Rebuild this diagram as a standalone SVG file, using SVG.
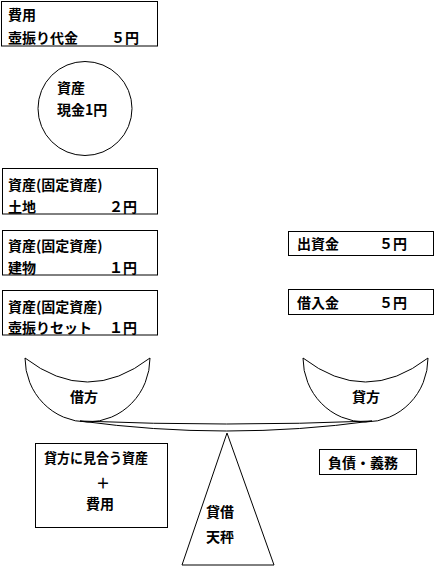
<svg xmlns="http://www.w3.org/2000/svg" width="435" height="569" viewBox="0 0 435 569">
<style>
.s{fill:none;stroke:#000;stroke-width:1}
.t{font-family:"Noto Sans CJK JP","Noto Sans CJK SC",sans-serif;font-size:14px;font-weight:bold;fill:#000}
.m{text-anchor:middle}
</style>
<rect width="435" height="569" fill="#fff"/>
<g id="hiyou">
<rect class="s" x="1.5" y="1.5" width="156" height="44.5"/>
<text class="t" x="8" y="20">費用</text>
<text class="t" x="8" y="43">壺振り代金</text>
<text class="t" x="111" y="43">５円</text>
</g>
<g id="genkin">
<circle class="s" cx="85" cy="108.5" r="47"/>
<text class="t" x="57" y="93">資産</text>
<text class="t" x="57" y="115">現金1円</text>
</g>
<g id="tochi">
<rect class="s" x="2.5" y="168.5" width="155" height="45.5"/>
<text class="t" x="8" y="190">資産(固定資産)</text>
<text class="t" x="8" y="211.5">土地</text>
<text class="t" x="109" y="211.5">２円</text>
</g>
<g id="tatemono">
<rect class="s" x="2.5" y="230.5" width="155" height="44.5"/>
<text class="t" x="8" y="250.5">資産(固定資産)</text>
<text class="t" x="8" y="272.5">建物</text>
<text class="t" x="109" y="272.5">１円</text>
</g>
<g id="tsubo">
<rect class="s" x="2.5" y="290.5" width="155" height="44.5"/>
<text class="t" x="8" y="311.5">資産(固定資産)</text>
<text class="t" x="8" y="332.5">壺振りセット</text>
<text class="t" x="109" y="332.5">１円</text>
</g>
<g id="shusshikin">
<rect class="s" x="288.5" y="231.5" width="145" height="24"/>
<text class="t" x="297" y="248.5">出資金</text>
<text class="t" x="379" y="248.5">５円</text>
</g>
<g id="kariirekin">
<rect class="s" x="288.5" y="289.5" width="145" height="25"/>
<text class="t" x="297" y="307.5">借入金</text>
<text class="t" x="379" y="307.5">５円</text>
</g>
<g id="karikata">
<path class="s" d="M25,358 Q87.5,406 150,358 A62.5,64 0 0 1 25,358 Z"/>
<text class="t m" x="84" y="402">借方</text>
</g>
<g id="kashikata">
<path class="s" d="M303,358 Q365.5,406 428,358 A62.5,64 0 0 1 303,358 Z"/>
<text class="t m" x="366" y="402">貸方</text>
</g>
<g id="connectors">
<path class="s" d="M80,421 Q227,427 372,421"/>
<path class="s" d="M80,421 Q227,441 372,421"/>
</g>
<g id="tenbin">
<path class="s" d="M227,433 L182,565 L274,565 Z"/>
<text class="t m" x="220" y="516.5">貸借</text>
<text class="t m" x="220" y="541.5">天秤</text>
</g>
<g id="shisan">
<rect class="s" x="35.5" y="443.5" width="132" height="84"/>
<text class="t" x="44" y="462.5" textLength="104" lengthAdjust="spacingAndGlyphs">貸方に見合う資産</text>
<text class="t m" x="103" y="487.5">＋</text>
<text class="t m" x="100" y="508.5">費用</text>
</g>
<g id="fusai">
<rect class="s" x="319.5" y="449.5" width="97" height="25"/>
<text class="t" x="328" y="467.5">負債・義務</text>
</g>
</svg>
